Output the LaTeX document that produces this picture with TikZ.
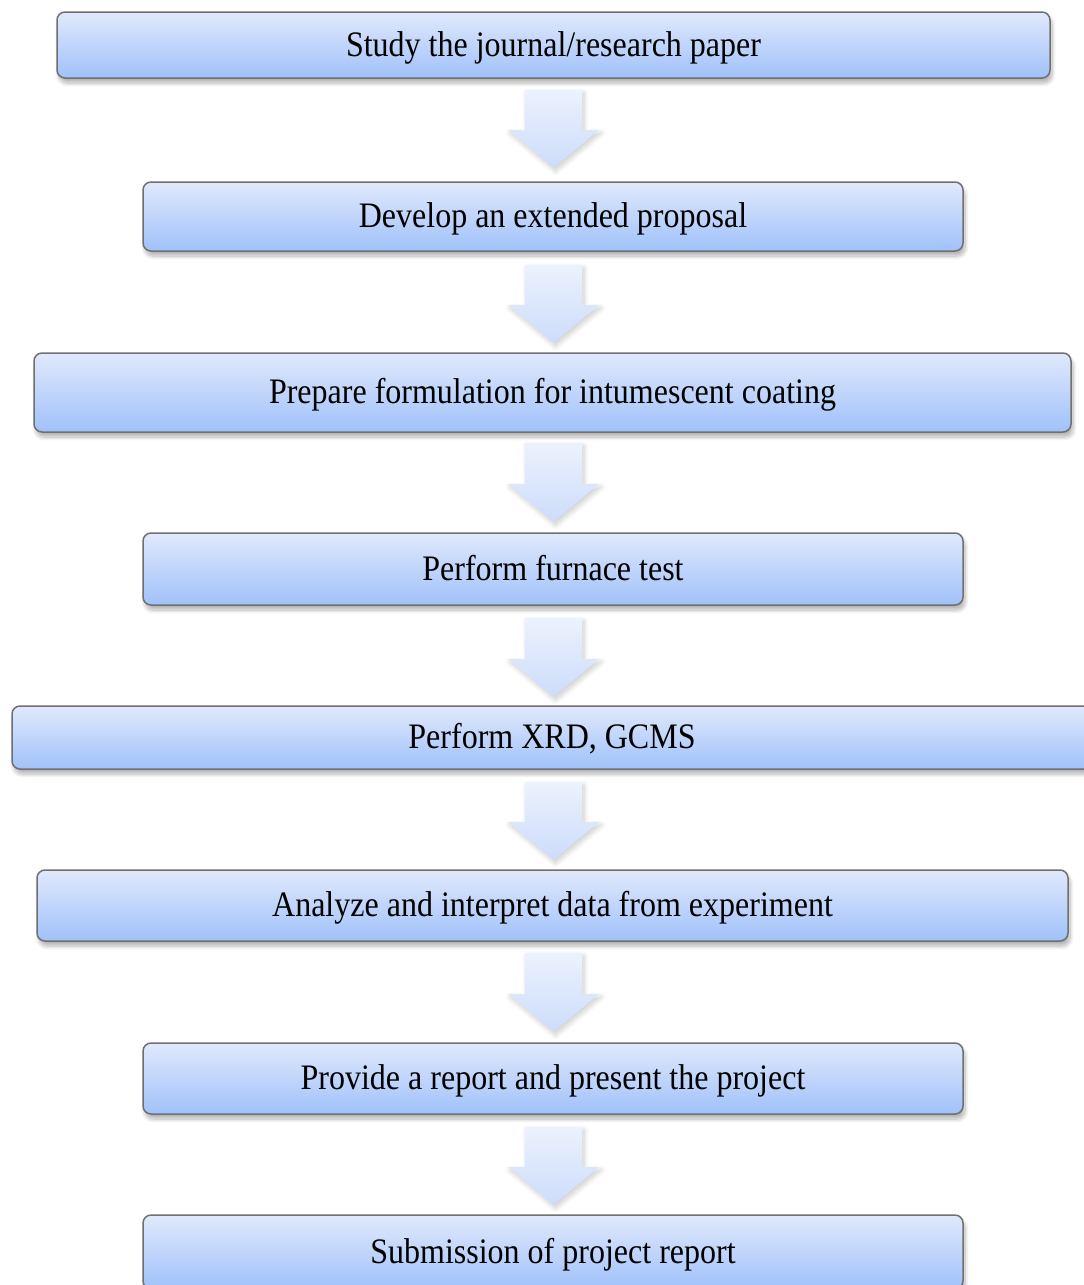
\documentclass[tikz,border=0pt]{standalone}
\usepackage{fontspec}
\setmainfont{Liberation Serif}
\usetikzlibrary{shadows.blur}
\definecolor{boxtop}{RGB}{224,233,252}
\definecolor{boxbot}{RGB}{160,193,250}
\definecolor{boxline}{RGB}{112,112,112}
\definecolor{arrtop}{RGB}{236,242,253}
\definecolor{arrbot}{RGB}{204,220,250}
\newcommand\lbl[1]{\scalebox{1}[1.12]{#1}}
\tikzset{
  stepbox/.style={draw=boxline, line width=1.5pt, rounded corners=8pt,
    top color=boxtop, bottom color=boxbot,
    blur shadow={shadow xshift=2pt, shadow yshift=-5pt, shadow blur steps=8,
      shadow opacity=30, shadow blur radius=4pt},
    font=\fontsize{32}{36}\selectfont, text=black, inner sep=0pt,
    text height=22pt, text depth=0pt},
  flowarrow/.style={top color=arrtop, bottom color=arrbot, draw=none,
    blur shadow={shadow xshift=2pt, shadow yshift=-3pt, shadow blur steps=10,
      shadow opacity=20, shadow blur radius=5pt}}
}
\newcommand\flowarr[2]{%
  \path[flowarrow] (525,#1) -- (582,#1) -- (582,{#2-38}) -- (599,{#2-38})
    -- (553.5,#2) -- (508,{#2-38}) -- (525,{#2-38}) -- cycle;}
\begin{document}
\begin{tikzpicture}[x=1pt,y=-1pt]
\useasboundingbox (0,0) rectangle (1084,1285);
\clip (0,0) rectangle (1084,1285);
\node[stepbox, minimum width=993pt, minimum height=66pt] (s1) at (553.5,45) {\lbl{Study the journal/research paper}};
\node[stepbox, minimum width=820pt, minimum height=69pt] (s2) at (553,216.5) {\lbl{Develop an extended proposal}};
\node[stepbox, minimum width=1037pt, minimum height=79pt] (s3) at (552.5,392.5) {\lbl{Prepare formulation for intumescent coating}};
\node[stepbox, minimum width=820pt, minimum height=72pt] (s4) at (553,569) {\lbl{Perform furnace test}};
\node[stepbox, minimum width=1080pt, minimum height=63pt] (s5) at (552,737.5) {\lbl{Perform XRD, GCMS}};
\node[stepbox, minimum width=1031pt, minimum height=71pt] (s6) at (552.5,905.5) {\lbl{Analyze and interpret data from experiment}};
\node[stepbox, minimum width=820pt, minimum height=71pt] (s7) at (553,1078.5) {\lbl{Provide a report and present the project}};
\node[stepbox, minimum width=820pt, minimum height=74pt] (s8) at (553,1252) {\lbl{Submission of project report}};
\flowarr{90}{168}
\flowarr{265}{343}
\flowarr{443}{522}
\flowarr{618}{697}
\flowarr{782}{860}
\flowarr{953}{1032}
\flowarr{1127}{1205}
\end{tikzpicture}
\end{document}
